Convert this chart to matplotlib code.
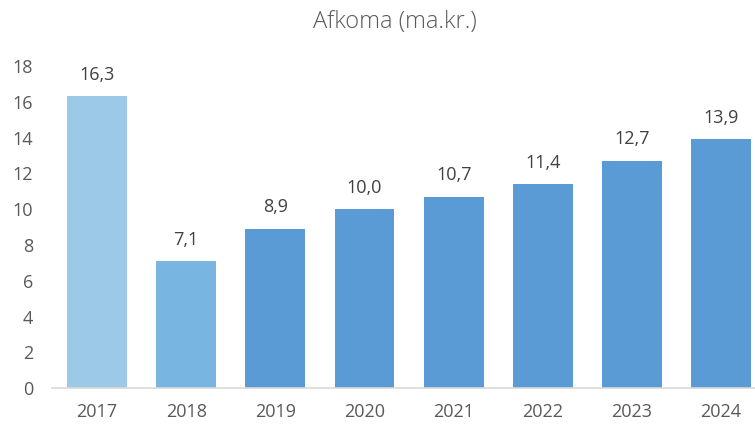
import matplotlib.pyplot as plt

plt.rcParams['font.family'] = ['Open Sans', 'DejaVu Sans']

# yearly values (ma.kr.)
years = ['2017', '2018', '2019', '2020', '2021', '2022', '2023', '2024']
values = [16.3, 7.1, 8.9, 10.0, 10.7, 11.4, 12.7, 13.9]
bar_colors = ['#9DC9E9', '#78B5E1'] + ['#5B9BD5'] * 6

fig = plt.figure(figsize=(7.55, 4.26), dpi=100)
ax = fig.add_axes([0.0695, 0.089, 0.9305, 0.756])

x = range(len(years))
bars = ax.bar(x, values, width=0.67, color=bar_colors, zorder=2)

for xi, v in zip(x, values):
    ax.text(xi, v + 0.7, f'{v:.1f}'.replace('.', ','), ha='center', va='bottom',
            fontsize=13, color='#404040')

ax.set_xlim(-0.5, 7.38)
ax.set_ylim(0, 18)
ax.set_yticks(range(0, 19, 2))
ax.set_xticks(list(x))
ax.set_xticklabels(years)
ax.tick_params(axis='both', length=0, labelsize=13, labelcolor='#595959')
ax.tick_params(axis='x', pad=11)
ax.tick_params(axis='y', pad=14)

for side in ['top', 'right', 'left']:
    ax.spines[side].set_visible(False)
ax.spines['bottom'].set_color('#D9D9D9')
ax.spines['bottom'].set_linewidth(1.2)

fig.text(0.523, 0.948, 'Afkoma (ma.kr.)', ha='center', va='center',
         fontsize=17, color='#595959', fontweight='light')

fig.savefig('out.png', dpi=100, facecolor='white')
